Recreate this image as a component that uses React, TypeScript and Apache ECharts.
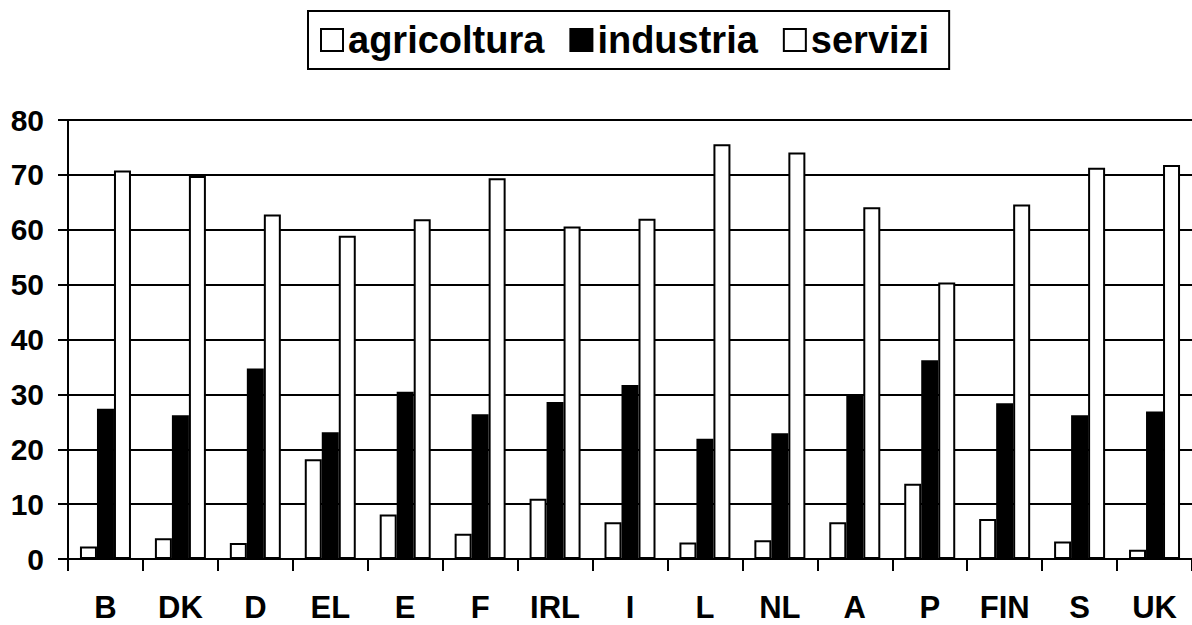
import React, { useEffect, useRef } from "react";
import * as echarts from "echarts";

const categories = ["B", "DK", "D", "EL", "E", "F", "IRL", "I", "L", "NL", "A", "P", "FIN", "S", "UK"];
const agricoltura = [2.3, 3.8, 2.9, 18.2, 8.1, 4.6, 11.0, 6.7, 3.0, 3.4, 6.7, 13.7, 7.3, 3.2, 1.7];
const industria = [27.4, 26.2, 34.7, 23.1, 30.5, 26.4, 28.6, 31.7, 21.9, 22.9, 30.0, 36.2, 28.4, 26.2, 26.9];
const servizi = [70.8, 69.8, 62.8, 58.9, 61.9, 69.4, 60.6, 62.0, 75.6, 74.1, 64.1, 50.4, 64.6, 71.3, 71.8];
const yTicks = { min: 0, max: 80, interval: 10 };

const FONT = "'Liberation Sans', Arial, sans-serif";

export default function App() {
  const ref = useRef<HTMLDivElement>(null);
  useEffect(() => {
    document.body.style.margin = "0";
    const chart = echarts.init(ref.current!, null, { renderer: "svg" });
    const barBase = {
      type: "bar" as const,
      barWidth: 17,
      barGap: "0%",
    };
    chart.setOption({
      animation: false,
      backgroundColor: "#ffffff",
      legend: {
        left: 308,
        top: 11,
        orient: "horizontal",
        borderColor: "#000",
        borderWidth: 2,
        padding: [10, 20, 10, 12],
        itemWidth: 22,
        itemHeight: 22,
        itemGap: 25,
        icon: "rect",
        textStyle: { fontFamily: FONT, fontWeight: "bold", fontSize: 38, lineHeight: 38, color: "#000" },
        data: [
          { name: "agricoltura", itemStyle: { color: "#fff", borderColor: "#000", borderWidth: 2 } },
          { name: "industria", itemStyle: { color: "#000", borderColor: "#000", borderWidth: 2 } },
          { name: "servizi", itemStyle: { color: "#fff", borderColor: "#000", borderWidth: 2 } },
        ],
      },
      grid: { left: 68, right: -1, top: 120, bottom: 66, containLabel: false },
      xAxis: {
        type: "category",
        data: categories,
        axisLine: { lineStyle: { color: "#000", width: 2 } },
        axisTick: { show: true, length: 12, lineStyle: { color: "#000", width: 2 } },
        axisLabel: { fontFamily: FONT, fontWeight: "bold", fontSize: 31, lineHeight: 30, color: "#000", margin: 33 },
      },
      yAxis: {
        type: "value",
        min: yTicks.min,
        max: yTicks.max,
        interval: yTicks.interval,
        axisLine: { show: true, lineStyle: { color: "#000", width: 2 } },
        axisTick: { show: true, length: 10, lineStyle: { color: "#000", width: 2 } },
        axisLabel: { fontFamily: FONT, fontWeight: "bold", fontSize: 30, color: "#000", margin: 24 },
        splitLine: { show: true, lineStyle: { color: "#000", width: 2 } },
      },
      series: [
        { ...barBase, name: "agricoltura", data: agricoltura, itemStyle: { color: "#fff", borderColor: "#000", borderWidth: 2 } },
        { ...barBase, name: "industria", data: industria, itemStyle: { color: "#000", borderColor: "#000", borderWidth: 2 } },
        { ...barBase, name: "servizi", data: servizi, itemStyle: { color: "#fff", borderColor: "#000", borderWidth: 2 } },
      ],
    });
    return () => chart.dispose();
  }, []);
  return <div ref={ref} style={{ width: 1192, height: 625 }} />;
}
